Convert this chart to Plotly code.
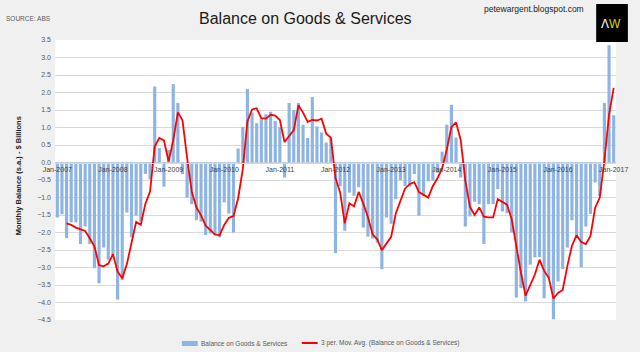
import pandas as pd
import plotly.graph_objects as go

# ---------------- data ----------------
months = pd.date_range("2007-01-01", periods=121, freq="MS").strftime("%b-%Y").tolist()

balance = [
    -1.57, -1.48, -2.16, -1.71, -1.71, -2.33, -1.83, -2.33, -3.02, -3.45, -2.43, -2.78,   # 2007
    -2.65, -3.92, -3.36, -1.43, -2.14, -1.52, -1.68, -0.33, -0.48, 2.17, 0.41, -0.69,     # 2008
    0.36, 2.24, 1.70, -0.33, -1.00, -1.19, -1.65, -1.69, -2.07, -2.03, -2.07, -2.14,      # 2009
    -1.14, -1.46, -2.00, 0.40, 1.02, 2.10, 1.43, 1.12, 1.26, 1.38, 1.45, 1.19,            # 2010
    1.00, -0.43, 1.70, 1.50, 1.70, 1.08, 0.70, 1.87, 1.03, 0.86, 0.57, 0.70,              # 2011 (Dec-10 first)
    -2.59, -0.68, -1.95, -0.86, -0.95, -0.71, -1.86, -2.12, -2.17, -2.29, -3.05, -1.57,   # 2012
    -1.75, -1.05, -0.50, -0.67, -0.69, -0.33, -1.52, -0.95, -0.54, -0.52, -0.29, 0.31,    # 2013
    1.08, 1.65, 0.71, -0.43, -1.83, -1.54, -1.12, -1.19, -2.33, -1.19, -1.19, -0.76,      # 2014
    -1.40, -1.45, -2.00, -3.86, -3.59, -3.97, -2.92, -2.71, -2.70, -3.88, -3.30, -4.48,   # 2015
    -3.40, -3.05, -2.43, -1.65, -2.16, -3.00, -1.83, -1.47, -0.57, -0.96, 1.70, 3.35,     # 2016
    1.35,                                                                                 # Jan-2017
]

year_ticks = months[::12]
y_ticks = [3.5, 3.0, 2.5, 2.0, 1.5, 1.0, 0.5, 0.0, -0.5, -1.0, -1.5, -2.0, -2.5, -3.0, -3.5, -4.0, -4.5]

series_bar_name = "Balance on Goods & Services"
series_line_name = "3 per. Mov. Avg. (Balance on Goods & Services)"

# 3-period moving average trendline (as in the original chart)
mov_avg = pd.Series(balance).rolling(3).mean().tolist()

# ---------------- geometry helpers (pixel -> paper) ----------------
W, H = 640, 352
L, R, T, B = 55, 19, 40, 32
PW, PH = W - L - R, H - T - B


def px(x):
    return (x - L) / PW


def py(y):
    return (H - B - y) / PH


BAR_COLOR = "#8db4e2"
LINE_COLOR = "#ff0000"
FONT = "Liberation Sans, Arial, sans-serif"

fig = go.Figure()
fig.add_trace(go.Bar(x=months, y=balance, name=series_bar_name,
                     marker=dict(color=BAR_COLOR, line=dict(width=0)),
                     showlegend=False))
fig.add_trace(go.Scatter(x=months, y=mov_avg, name=series_line_name, mode="lines",
                         line=dict(color=LINE_COLOR, width=1.8),
                         showlegend=False))

zero_pos = py(H - B - (0 - (-4.5)) / 8.0 * PH)

fig.update_layout(
    width=W, height=H,
    margin=dict(l=L, r=R, t=T, b=B),
    paper_bgcolor="#f0f0f0",
    plot_bgcolor="#ffffff",
    bargap=0.32,
    font=dict(family=FONT, color="#404040"),
    xaxis=dict(
        type="category",
        tickmode="array", tickvals=year_ticks, ticktext=year_ticks,
        tickfont=dict(size=7, color="#404040"),
        ticks="", showgrid=False, zeroline=False,
        showline=True, linecolor="#d9d9d9", linewidth=1,
        anchor="free", position=(0 - (-4.5)) / 8.0,
        range=[-0.5, len(months) - 0.5],
        tickangle=0,
    ),
    yaxis=dict(
        range=[-4.5, 3.5],
        tickmode="array", tickvals=y_ticks,
        tickformat=".1f",
        tickfont=dict(size=7, color="#595959"),
        showgrid=True, gridcolor="#d9d9d9", gridwidth=1,
        zeroline=False, showline=False, ticks="",
        ticklabelstandoff=3,
    ),
    annotations=[
        dict(text="Balance on Goods & Services", x=px(308), y=py(18), xref="paper", yref="paper",
             showarrow=False, xanchor="center", yanchor="middle",
             font=dict(size=16, color="#1a1a1a", family=FONT)),
        dict(text="SOURCE: ABS", x=px(4), y=py(18), xref="paper", yref="paper",
             showarrow=False, xanchor="left", yanchor="middle",
             font=dict(size=6.5, color="#595959", family=FONT)),
        dict(text="petewargent.blogspot.com", x=px(591), y=py(9), xref="paper", yref="paper",
             showarrow=False, xanchor="right", yanchor="middle",
             font=dict(size=8.5, color="#222222", family=FONT)),
        dict(text="Λ<span style='color:#d6d60a'>W</span>", x=px(616), y=py(24), xref="paper", yref="paper",
             showarrow=False, xanchor="center", yanchor="middle",
             font=dict(size=12, color="#ffffff", family=FONT)),
        dict(text="<b>Monthly Balance (s.a.) - $ Billions</b>", x=px(18), y=py(176),
             xref="paper", yref="paper", textangle=-90,
             showarrow=False, xanchor="center", yanchor="middle",
             font=dict(size=7.5, color="#1a1a1a", family=FONT)),
        dict(text=series_bar_name, x=px(200), y=py(343), xref="paper", yref="paper",
             showarrow=False, xanchor="left", yanchor="middle",
             font=dict(size=6.5, color="#595959", family=FONT)),
        dict(text=series_line_name, x=px(321), y=py(343), xref="paper", yref="paper",
             showarrow=False, xanchor="left", yanchor="middle",
             font=dict(size=6.5, color="#595959", family=FONT)),
    ],
    shapes=[
        dict(type="rect", xref="paper", yref="paper",
             x0=px(601), x1=px(633), y0=py(42), y1=py(4),
             fillcolor="#000000", line=dict(width=0), layer="above"),
        dict(type="rect", xref="paper", yref="paper",
             x0=px(183), x1=px(199), y0=py(346), y1=py(341),
             fillcolor=BAR_COLOR, line=dict(width=0)),
        dict(type="line", xref="paper", yref="paper",
             x0=px(304), x1=px(320), y0=py(343), y1=py(343),
             line=dict(color=LINE_COLOR, width=2)),
    ],
)

fig.write_html("out.html")
